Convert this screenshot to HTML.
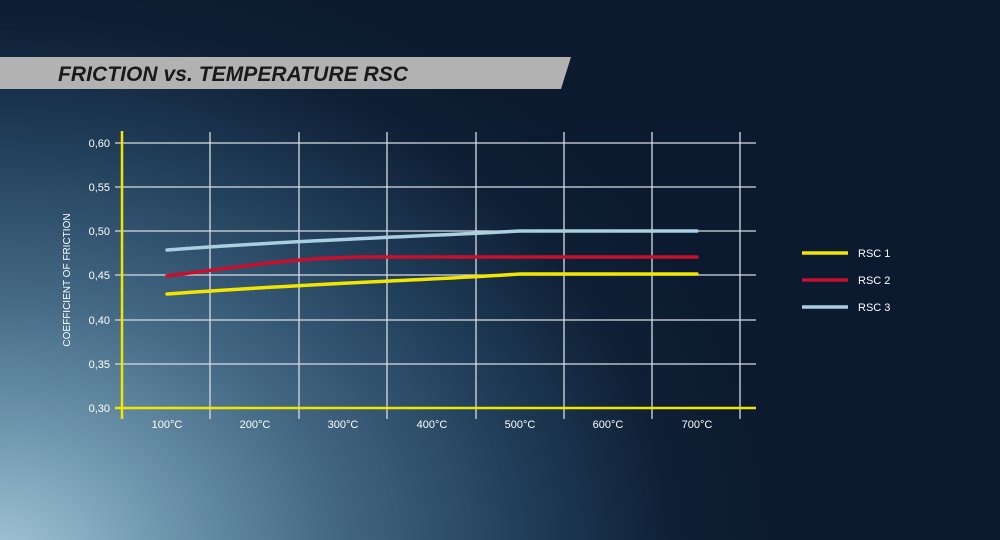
<!DOCTYPE html>
<html><head><style>
html,body{margin:0;padding:0}
body{width:1000px;height:540px;overflow:hidden;position:relative;font-family:"Liberation Sans",sans-serif;
background:radial-gradient(ellipse 780px 620px at 0px 560px,#a2c6d6 0%,#7199b0 20%,#456a86 42%,#22405c 66%,#0f2036 86%,#0b1a2e 100%),#0b1a2e;}
</style></head><body>
<svg width="1000" height="540" style="position:absolute;left:0;top:0">
<polygon points="0,57 571,57 561,89 0,89" fill="#b2b2b2"/>
<text x="58" y="81" font-family="Liberation Sans" font-weight="bold" font-style="italic" font-size="21" fill="#1a1a1a" textLength="350">FRICTION vs. TEMPERATURE RSC</text>
<g stroke="#d8dde2" stroke-width="1.3">
<line x1="115" y1="143" x2="756" y2="143"/><line x1="115" y1="187" x2="756" y2="187"/>
<line x1="115" y1="231" x2="756" y2="231"/><line x1="115" y1="275" x2="756" y2="275"/>
<line x1="115" y1="320" x2="756" y2="320"/><line x1="115" y1="364" x2="756" y2="364"/>
<line x1="210" y1="132" x2="210" y2="419"/><line x1="299" y1="132" x2="299" y2="419"/>
<line x1="387" y1="132" x2="387" y2="419"/><line x1="476" y1="132" x2="476" y2="419"/>
<line x1="564" y1="132" x2="564" y2="419"/><line x1="652" y1="132" x2="652" y2="419"/>
<line x1="740" y1="132" x2="740" y2="419"/>
</g>
<g stroke="#f2e500" stroke-width="2.5">
<line x1="122" y1="131" x2="122" y2="419"/><line x1="115" y1="408" x2="756" y2="408"/>
</g>
<g font-size="11" fill="#fff" text-anchor="end">
<text x="110" y="147">0,60</text><text x="110" y="191">0,55</text><text x="110" y="235">0,50</text>
<text x="110" y="279">0,45</text><text x="110" y="324">0,40</text><text x="110" y="368">0,35</text><text x="110" y="412">0,30</text>
</g>
<g font-size="11" fill="#fff" text-anchor="middle">
<text x="167" y="428">100°C</text><text x="255" y="428">200°C</text><text x="343" y="428">300°C</text>
<text x="432" y="428">400°C</text><text x="520" y="428">500°C</text><text x="608" y="428">600°C</text>
<text x="697" y="428">700°C</text>
</g>
<text transform="translate(70,280) rotate(-90)" font-size="10" fill="#fff" text-anchor="middle">COEFFICIENT OF FRICTION</text>
<g fill="none" stroke-width="3.5" stroke-linecap="round">
<path d="M167,294 C300,284 430,280 520,274 L697,274" stroke="#f2e500"/>
<path d="M167,276 C250,265 300,258 360,257 L697,257" stroke="#c8102e"/>
<path d="M167,250 C300,240 430,236 520,231 L697,231" stroke="#a9cfe0"/>
</g>
<g stroke-width="3.5">
<line x1="802" y1="253" x2="848" y2="253" stroke="#f2e500"/>
<line x1="802" y1="280" x2="848" y2="280" stroke="#c8102e"/>
<line x1="802" y1="307" x2="848" y2="307" stroke="#a9cfe0"/>
</g>
<g font-size="11" fill="#fff">
<text x="858" y="257">RSC 1</text><text x="858" y="284">RSC 2</text><text x="858" y="311">RSC 3</text>
</g>
</svg>
</body></html>
